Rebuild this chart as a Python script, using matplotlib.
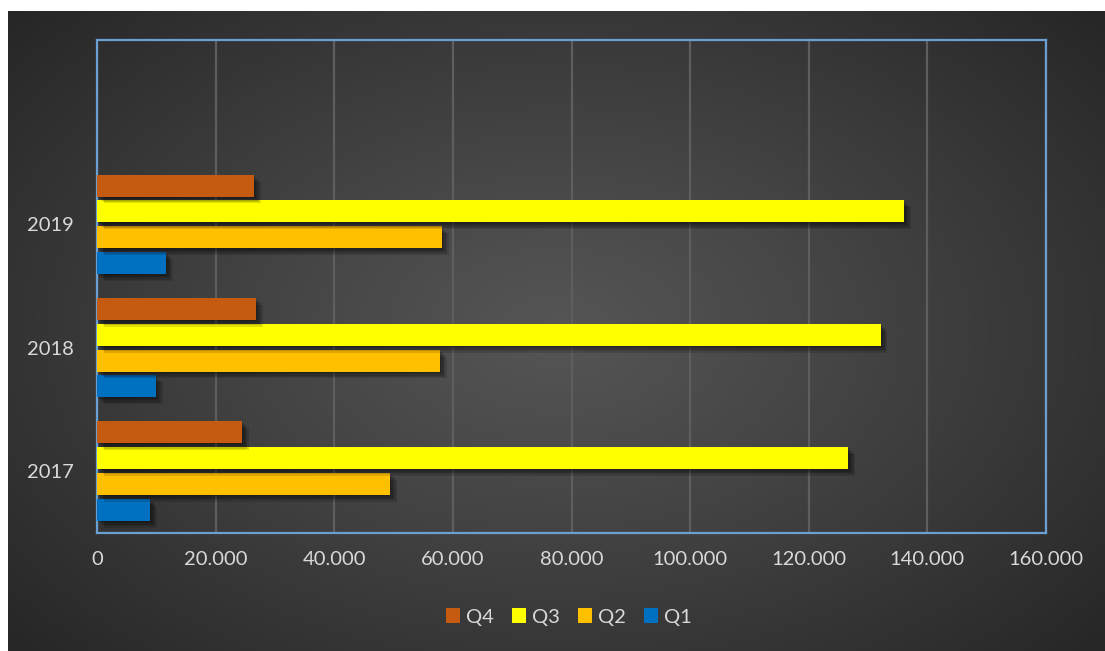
import numpy as np
import matplotlib
matplotlib.use("Agg")
import matplotlib.pyplot as plt
from matplotlib import patheffects as pe
from matplotlib.ticker import FuncFormatter

# Quarterly values per year (bottom-to-top categories; the top slot is empty)
years = ["2017", "2018", "2019", ""]
q1 = [8900, 9900, 11600, 0]
q2 = [49400, 57800, 58100, 0]
q3 = [126700, 132100, 136100, 0]
q4 = [24400, 26750, 26400, 0]
series_names = ["Q1", "Q2", "Q3", "Q4"]
series_colors = ["#0070C0", "#FFC000", "#FFFF00", "#C55A11"]
x_ticks = [0, 20000, 40000, 60000, 80000, 100000, 120000, 140000, 160000]

plt.rcParams["font.family"] = ["Lato", "DejaVu Sans"]
text_color = "#D9D9D9"
fs = 14.5

W, H = 1105, 651
fig = plt.figure(figsize=(W / 100, H / 100), dpi=100)
fig.patch.set_facecolor("white")

# Radial-gradient chart background
bg = fig.add_axes([8 / W, 0, 1 - 8 / W, 1 - 11 / H])
bg.set_axis_off()
gx, gy = np.meshgrid(np.linspace(-1, 1, 600), np.linspace(-1, 1, 400))
r = np.sqrt((gx * 1.0) ** 2 + (gy * 0.9) ** 2)
r = np.clip(r / 1.35, 0, 1)
light, dark = 0x55 / 255, 0x26 / 255
shade = light + (dark - light) * r ** 1.1
bg.imshow(np.dstack([shade] * 3), aspect="auto", extent=[0, 1, 0, 1])
bg.set_xlim(0, 1)
bg.set_ylim(0, 1)

ax = fig.add_axes([97 / W, 1 - 532.5 / H, (1046 - 97) / W, (532.5 - 39.5) / H])
ax.set_facecolor("none")

y = np.arange(len(years))
step = 0.21
height = 0.178
offsets = [-1.5 * step, -0.5 * step, 0.5 * step, 1.5 * step]
# soft drop shadow built from a few stacked, faint offset copies
shadow = [pe.SimplePatchShadow(offset=(d, -d), shadow_rgbFace="black", alpha=0.13) for d in (1, 2, 3, 4, 5)]
shadow.append(pe.Normal())
for vals, name, col, off in zip([q1, q2, q3, q4], series_names, series_colors, offsets):
    bars = ax.barh(y + off, vals, height=height, color=col, label=name, zorder=3)
    for b in bars:
        b.set_path_effects(shadow)

ax.set_xlim(0, 160000)
ax.set_ylim(-0.5, len(years) - 0.5)
ax.set_xticks(x_ticks)
ax.xaxis.set_major_formatter(FuncFormatter(lambda v, p: "0" if v == 0 else f"{int(v):,}".replace(",", ".")))
ax.set_yticks(y)
ax.set_yticklabels(years)
ax.tick_params(axis="both", length=0, colors=text_color, labelsize=fs)
ax.tick_params(axis="x", pad=13)
ax.tick_params(axis="y", pad=17)
ax.grid(axis="x", color="#5E5E5E", linewidth=1.6, zorder=0)
for s in ax.spines.values():
    s.set_color("#6A9FD4")
    s.set_linewidth(1.6)

handles, labels = ax.get_legend_handles_labels()
leg = fig.legend(handles[::-1], labels[::-1], loc="center", bbox_to_anchor=(0.515, 1 - 617 / H),
                 ncol=4, frameon=False, fontsize=fs, handlelength=0.7, handleheight=0.7,
                 handletextpad=0.3, columnspacing=0.9)
for t in leg.get_texts():
    t.set_color(text_color)
for h in leg.legend_handles:
    h.set_path_effects([])

fig.savefig("out.png", dpi=100, facecolor=fig.get_facecolor())
